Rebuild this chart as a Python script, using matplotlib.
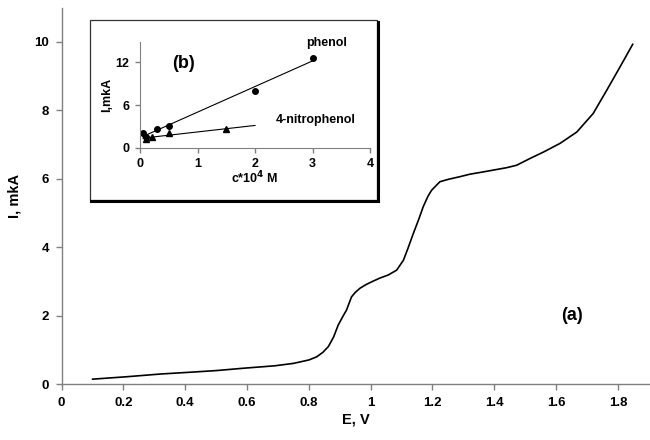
import numpy as np
import matplotlib
matplotlib.use("Agg")
import matplotlib.pyplot as plt
from matplotlib.patches import Rectangle
from matplotlib.lines import Line2D

plt.rcParams['font.family'] = ['Liberation Sans', 'DejaVu Sans']
plt.rcParams['font.weight'] = 'bold'

# main voltammogram
E = [0.10, 0.21, 0.32, 0.43, 0.50, 0.59, 0.69, 0.75, 0.80, 0.825, 0.845, 0.863,
     0.88, 0.895, 0.91, 0.922, 0.938, 0.95, 0.965, 0.985, 1.008, 1.03, 1.057,
     1.084, 1.106, 1.12, 1.138, 1.155, 1.17, 1.185, 1.197, 1.224, 1.251, 1.29,
     1.321, 1.36, 1.397, 1.44, 1.472, 1.516, 1.56, 1.613, 1.667, 1.72, 1.764,
     1.807, 1.848]
I = [0.15, 0.22, 0.30, 0.36, 0.40, 0.47, 0.54, 0.61, 0.71, 0.80, 0.93, 1.10,
     1.38, 1.73, 1.98, 2.17, 2.55, 2.68, 2.80, 2.91, 3.01, 3.10, 3.19,
     3.33, 3.62, 3.95, 4.40, 4.80, 5.18, 5.48, 5.66, 5.91, 5.98, 6.06,
     6.13, 6.19, 6.25, 6.32, 6.39, 6.59, 6.78, 7.03, 7.36, 7.90, 8.58,
     9.26, 9.92]

# inset (b): calibration points
c_phenol = [0.05, 0.1, 0.3, 0.5, 2.0, 3.0]
i_phenol = [2.0, 1.5, 2.6, 3.1, 8.0, 12.6]
c_nitro = [0.1, 0.2, 0.5, 1.5]
i_nitro = [1.2, 1.5, 2.0, 2.6]

x_ticks = [0, 0.2, 0.4, 0.6, 0.8, 1.0, 1.2, 1.4, 1.6, 1.8]
x_ticklabels = ['0', '0.2', '0.4', '0.6', '0.8', '1', '1.2', '1.4', '1.6', '1.8']
y_ticks = [0, 2, 4, 6, 8, 10]

axis_gray = '#808080'

fig = plt.figure(figsize=(6.5, 4.4), dpi=100)
ax = fig.add_axes([0.0949, 0.1266, 0.9051, 0.8545])
ax.plot(E, I, color='black', lw=1.2)
ax.set_xlim(0, 1.904)
ax.set_ylim(0, 10.97)
ax.set_xticks(x_ticks)
ax.set_xticklabels(x_ticklabels)
ax.set_yticks(y_ticks)
for s in ['top', 'right']:
    ax.spines[s].set_visible(False)
for s in ['left', 'bottom']:
    ax.spines[s].set_color(axis_gray)
    ax.spines[s].set_linewidth(1.0)
ax.tick_params(direction='out', length=4, width=1, color=axis_gray,
               labelsize=9.5, pad=5)
ax.set_xlabel('E, V', fontsize=10.5, fontweight='bold', labelpad=3)
ax.set_ylabel('I, mkA', fontsize=10.5, fontweight='bold', labelpad=9)
ax.text(1.65, 2.0, '(a)', fontsize=13, fontweight='bold', ha='center', va='center')

# inset frame with shadow
x0, y0, x1, y1 = 89.5 / 650, 1 - 200 / 440, 377 / 650, 1 - 20 / 440
fig.add_artist(Rectangle((x0, y0), x1 - x0, y1 - y0, transform=fig.transFigure,
                         facecolor='white', edgecolor='#333333', lw=0.9, zorder=3))
fig.add_artist(Line2D([x0 + 0.002, x1 + 0.0015], [y0 - 0.002, y0 - 0.002],
                      transform=fig.transFigure, color='black', lw=2.2, zorder=3))
fig.add_artist(Line2D([x1 + 0.0015, x1 + 0.0015], [y0 - 0.002, y1 - 0.004],
                      transform=fig.transFigure, color='black', lw=2.2, zorder=3))

axi = fig.add_axes([140 / 650, 1 - 147.7 / 440, 230 / 650, 106 / 440], zorder=4)
axi.patch.set_alpha(0)
axi.plot(c_phenol, i_phenol, 'o', color='black', ms=4)
axi.plot(c_nitro, i_nitro, '^', color='black', ms=4.5)
k1, b1 = np.polyfit(c_phenol, i_phenol, 1)
k2, b2 = np.polyfit(c_nitro, i_nitro, 1)
xl1 = np.array([0.05, 3.0])
xl2 = np.array([0.05, 2.0])
axi.plot(xl1, k1 * xl1 + b1, color='black', lw=0.8)
axi.plot(xl2, k2 * xl2 + b2, color='black', lw=0.8)
axi.set_xlim(0, 4)
axi.set_ylim(0, 14.9)
axi.set_xticks([0, 1, 2, 3, 4])
axi.set_yticks([0, 6, 12])
for s in ['top', 'right']:
    axi.spines[s].set_visible(False)
for s in ['left', 'bottom']:
    axi.spines[s].set_color(axis_gray)
axi.tick_params(direction='out', length=3.5, width=1, color=axis_gray,
                labelsize=9, pad=4)
axi.set_xlabel(r'c*10$^{\mathbf{4}}$ M', fontsize=9, fontweight='bold', labelpad=0)
axi.set_ylabel('I,mkA', fontsize=9, fontweight='bold', labelpad=2)
axi.text(0.75, 11.9, '(b)', fontsize=13, fontweight='bold', ha='center', va='center')
axi.text(3.25, 14.7, 'phenol', fontsize=9, fontweight='bold', ha='center', va='center')
axi.text(3.05, 3.9, '4-nitrophenol', fontsize=9, fontweight='bold', ha='center', va='center')

fig.savefig('out.png', dpi=100)
